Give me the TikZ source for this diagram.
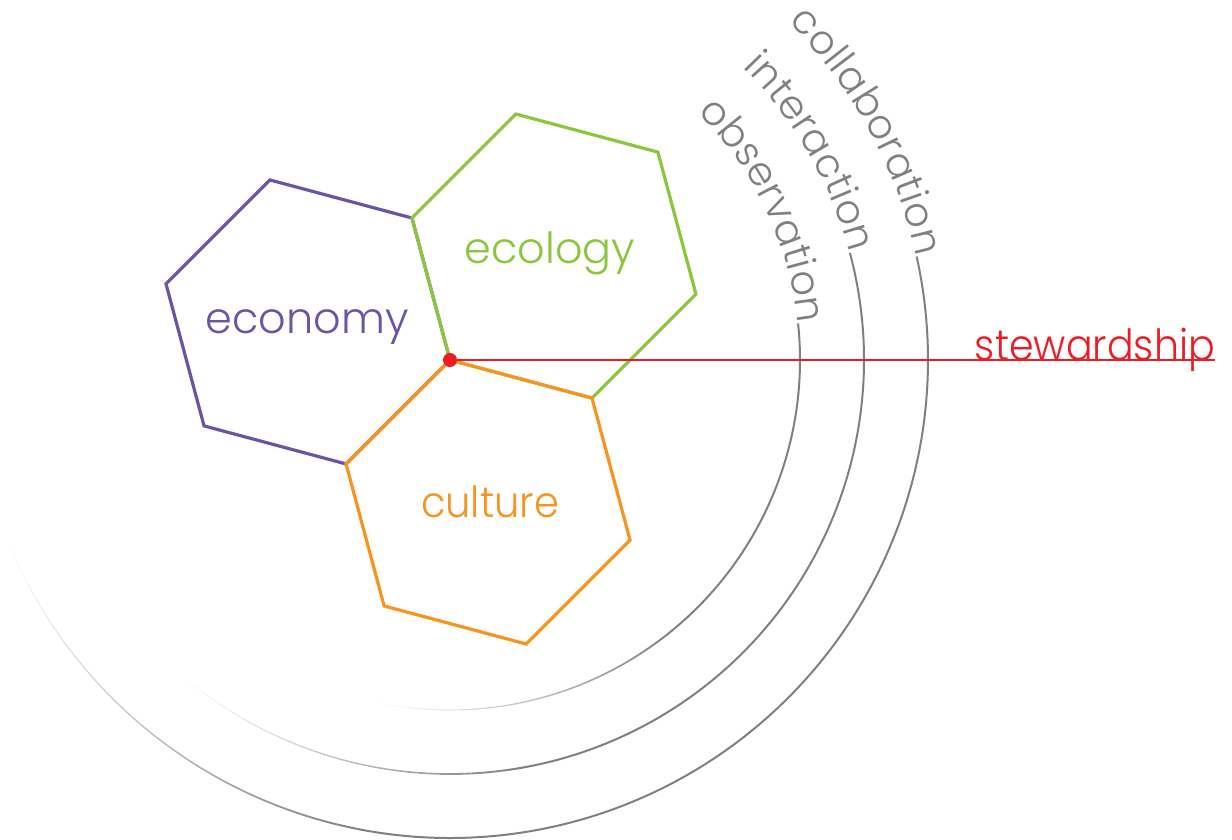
\documentclass[tikz,border=0pt]{standalone}
\usepackage{fontspec}
\IfFontExistsTF{Poppins Light}{\setmainfont{Poppins Light}}{\setmainfont{Poppins}}
\usetikzlibrary{shapes.geometric,decorations.text}
\definecolor{econcol}{HTML}{6B54A4}
\definecolor{ecolcol}{HTML}{8CC63F}
\definecolor{cultcol}{HTML}{F7931E}
\definecolor{stewred}{HTML}{ED1C24}
\definecolor{ringgray}{HTML}{808080}
\newcommand{\arcfont}{\fontsize{40}{40}\selectfont}

\begin{document}
\begin{tikzpicture}[x=1pt,y=1pt,
hex/.style={%
regular polygon,
regular polygon sides=6,
shape border rotate=-15,
minimum size=294pt,
inner sep=0pt,
line width=3.2pt,
draw
},
word/.style={%
font=\fontsize{43}{50}\selectfont,
anchor=base,
inner sep=0pt
},
ring/.style={%
draw=ringgray,
line width=2pt
},
]
\useasboundingbox (-450,-479) rectangle (782,360);
%% Rings
\path[decorate,decoration={text along path,text={|\arcfont|observation},text align={fit to path},text color=ringgray}]
(45:350) arc[start angle=45,end angle=6,radius=350];
\draw[ring] (6:350) arc[start angle=6,end angle=-50,radius=350];
\foreach \i [evaluate=\i as \op using 1-\i/50,evaluate=\i as \aa using -50-52*\i/50,evaluate=\i as \ab using -50-52*(\i+1)/50] in {0,...,49}{%
\draw[ring,draw opacity=\op,line width=2pt-1.3pt*\i/50] (\aa:350) arc[start angle=\aa,end angle=\ab,radius=350];
}
\path[decorate,decoration={text along path,text={|\arcfont|interaction},text align={fit to path},text color=ringgray}]
(45:414) arc[start angle=45,end angle=15,radius=414];
\draw[ring] (15:414) arc[start angle=15,end angle=-80,radius=414];
\foreach \i [evaluate=\i as \op using 1-\i/50,evaluate=\i as \aa using -80-50*\i/50,evaluate=\i as \ab using -80-50*(\i+1)/50] in {0,...,49}{%
\draw[ring,draw opacity=\op,line width=2pt-1.3pt*\i/50] (\aa:414) arc[start angle=\aa,end angle=\ab,radius=414];
}
\path[decorate,decoration={text along path,text={|\arcfont|collaboration},text align={fit to path},text color=ringgray}]
(45:478) arc[start angle=45,end angle=12.5,radius=478];
\draw[ring] (12.5:478) arc[start angle=12.5,end angle=-100,radius=478];
\foreach \i [evaluate=\i as \op using 1-\i/50,evaluate=\i as \aa using -100-58*\i/50,evaluate=\i as \ab using -100-58*(\i+1)/50] in {0,...,49}{%
\draw[ring,draw opacity=\op,line width=2pt-1.3pt*\i/50] (\aa:478) arc[start angle=\aa,end angle=\ab,radius=478];
}
%% Hexagons
\node[hex,draw=econcol](econ)at(165:147){};
\node[hex,draw=ecolcol](ecol)at(45:147){};
\node[hex,draw=cultcol](cult)at(-75:147){};
\node[word,text=econcol](econlabel)at(-143,27){economy};
\node[word,text=ecolcol](ecollabel)at(100,97){ecology};
\node[word,text=cultcol](cultlabel)at(40,-157){\scalebox{0.93}[1]{culture}};
%% Stewardship
\node[word,anchor=base east,text=stewred](stew)at(765,0){\scalebox{0.92}[1]{stewardship}};
\node[circle,fill=stewred,inner sep=0pt,minimum size=14pt](hub)at(0,0){};
\draw[stewred,line width=1.5pt] (hub.center)--(stew.base east);
\end{tikzpicture}
\end{document}
